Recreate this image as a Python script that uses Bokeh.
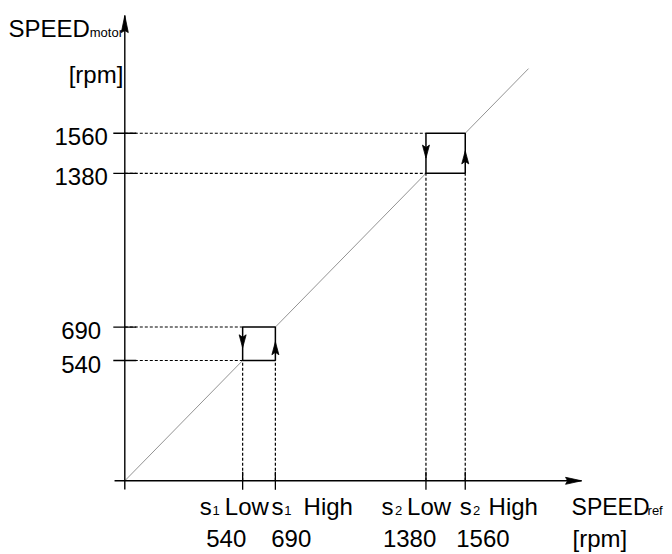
import math
from bokeh.plotting import figure
from bokeh.models import Range1d
from bokeh.core.properties import value
from bokeh.embed import file_html
from bokeh.resources import INLINE

# ---------------- data ----------------
THRESH_LOW = [540, 1380]          # s Low  (switch down)
THRESH_HIGH = [690, 1560]         # s High (switch up)
LINE_END = 1850                   # end of the reference diagonal
Y_TICKS = [540, 690, 1380, 1560]
Y_TICK_LABELS = ["540", "690", "1380", "1560"]
X_TICKS = [540, 690, 1380, 1560]
X_TICK_NUMBERS = ["540", "690", "1380", "1560"]
X_TICK_WORDS = ["Low", "High", "Low", "High"]
X_TICK_STAGE = ["1", "1", "2", "2"]

# ---------------- layout / style ----------------
W, H = 672, 554
KX, KY = 0.21823, 0.2228          # pixels per rpm
OX, OY = 124.3, 480.3             # origin position in pixels from the figure's top-left
X0, X1 = -OX / KX, (W - OX) / KX
Y0, Y1 = -(H - OY) / KY, OY / KY
X_AXIS_START, X_AXIS_END = -47, 2093
Y_AXIS_START, Y_AXIS_END = -39, 2088
FONT = value("Liberation Sans")
BIG_PX, MID_PX, SMALL_PX = 24, 23, 13
BIG, MID, SMALL = f"{BIG_PX}px", f"{MID_PX}px", f"{SMALL_PX}px"

def corr(px):                     # baseline correction for Bokeh's alphabetic text placement
    return -0.348 * px

FB, FM, FS = corr(BIG_PX), corr(MID_PX), corr(SMALL_PX)

dxp = (X1 - X0) / W   # data units per pixel
dyp = (Y1 - Y0) / H

p = figure(width=W, height=H, x_range=Range1d(X0, X1), y_range=Range1d(Y0, Y1),
           x_axis_type=None, y_axis_type=None, toolbar_location=None,
           output_backend="svg", min_border=0, outline_line_color=None)
p.title.visible = False
p.grid.visible = False
p.background_fill_color = "white"

# reference diagonal (motor speed = reference speed outside hysteresis)
starts = [0] + THRESH_HIGH
ends = THRESH_LOW + [LINE_END]
p.segment(x0=starts, y0=starts, x1=ends, y1=ends, line_color="#939393", line_width=1)

# dashed guide lines
hx0, hy0, hx1, hy1 = [], [], [], []
for lo, hi in zip(THRESH_LOW, THRESH_HIGH):
    for yy in (lo, hi):
        hx0.append(0); hy0.append(yy); hx1.append(lo); hy1.append(yy)
p.segment(x0=hx0, y0=hy0, x1=hx1, y1=hy1, line_color="black", line_width=1.1, line_dash="3 2")
vx0, vy0, vx1, vy1 = [], [], [], []
for lo, hi in zip(THRESH_LOW, THRESH_HIGH):
    for xx in (lo, hi):
        vx0.append(xx); vy0.append(0); vx1.append(xx); vy1.append(lo)
p.segment(x0=vx0, y0=vy0, x1=vx1, y1=vy1, line_color="black", line_width=1.2, line_dash="3 2")

# hysteresis boxes
p.quad(left=THRESH_LOW, right=THRESH_HIGH, bottom=THRESH_LOW, top=THRESH_HIGH,
       fill_color=None, line_color="black", line_width=1.5)

# axes
p.segment(x0=[X_AXIS_START, 0], y0=[0, Y_AXIS_START], x1=[X_AXIS_END, 0], y1=[0, Y_AXIS_END],
          line_color="black", line_width=1.4)

def head(tipx, tipy, direction, length_px, half_px, notch_px):
    if direction == "right":
        xs = [tipx, tipx - length_px * dxp, tipx - (length_px - notch_px) * dxp, tipx - length_px * dxp]
        ys = [tipy, tipy + half_px * dyp, tipy, tipy - half_px * dyp]
    else:
        s = 1 if direction == "up" else -1
        xs = [tipx, tipx + half_px * dxp, tipx, tipx - half_px * dxp]
        ys = [tipy, tipy - s * length_px * dyp, tipy - s * (length_px - notch_px) * dyp, tipy - s * length_px * dyp]
    return xs, ys

hxs, hys = [], []
for args in [(X_AXIS_END, 0, "right", 16, 3.5, 2), (0, Y_AXIS_END, "up", 17, 3.5, 2)]:
    a, b = head(*args); hxs.append(a); hys.append(b)
for lo, hi in zip(THRESH_LOW, THRESH_HIGH):
    a, b = head(lo, lo + 0.38 * (hi - lo), "down", 13, 3.5, 2.5); hxs.append(a); hys.append(b)
    a, b = head(hi, lo + 0.56 * (hi - lo), "up", 13, 3.5, 2.5); hxs.append(a); hys.append(b)
p.patches(xs=hxs, ys=hys, fill_color="black", line_color="black", line_width=0.8)

# tick marks
p.scatter(x=[0] * len(Y_TICKS), y=Y_TICKS, marker="dash", size=23, angle=0,
          line_color="black", line_width=1.3)
p.scatter(x=X_TICKS, y=[0] * len(X_TICKS), marker="dash", size=18, angle=math.pi / 2,
          line_color="black", line_width=1.3)

# y tick labels
p.text(x=[0] * len(Y_TICKS), y=Y_TICKS, text=Y_TICK_LABELS, x_offset=-43.6, y_offset=12 + FB,
       text_align="center", text_baseline="alphabetic", text_font=FONT, text_font_size=BIG,
       text_color="black")

# y axis title
p.text(x=[0], y=[Y_AXIS_END], text=["SPEED"], x_offset=-35, y_offset=21.7 + FB, text_align="right",
       text_baseline="alphabetic", text_font=FONT, text_font_size=BIG, text_color="black")
p.text(x=[0], y=[Y_AXIS_END], text=["motor"], x_offset=-1.8, y_offset=21.7 + FS, text_align="right",
       text_baseline="alphabetic", text_font=FONT, text_font_size=SMALL, text_color="black")
p.text(x=[0], y=[Y_AXIS_END], text=["[rpm]"], x_offset=-1.5, y_offset=67.5 + FB, text_align="right",
       text_baseline="alphabetic", text_font=FONT, text_font_size=BIG, text_color="black")

# x tick labels (s<sub>n</sub> Low/High, then value); label columns spread so they do not collide
ROW1, ROW2 = 34.2, 66.3
LABEL_COL_PX = [199.2, 270.9, 380.9, 459.2]     # where each "s" label column starts
NUM_COL_PX = [205.7, 270.7, 382.4, 455.7]       # where each number starts
SUB_OFF = [12.8, 12.8, 13.6, 13.2]
WORD_OFF = [25.1, 32.2, 25.7, 28.9]
for i, xv in enumerate(X_TICKS):
    tick_px = OX + xv * KX
    s_off = LABEL_COL_PX[i] - tick_px
    n_off = NUM_COL_PX[i] - tick_px
    common = dict(text_baseline="alphabetic", text_font=FONT, text_color="black", text_align="left")
    p.text(x=[xv], y=[0], text=["s"], x_offset=s_off, y_offset=ROW1 + FB, text_font_size=BIG, **common)
    p.text(x=[xv], y=[0], text=[X_TICK_STAGE[i]], x_offset=s_off + SUB_OFF[i], y_offset=ROW1 + FS,
           text_font_size=SMALL, **common)
    p.text(x=[xv], y=[0], text=[X_TICK_WORDS[i]], x_offset=s_off + WORD_OFF[i], y_offset=ROW1 + FB,
           text_font_size=BIG, **common)
    p.text(x=[xv], y=[0], text=[X_TICK_NUMBERS[i]], x_offset=n_off, y_offset=ROW2 + FB,
           text_font_size=BIG, **common)

# x axis title
p.text(x=[X_AXIS_END], y=[0], text=["SPEED"], x_offset=-10, y_offset=ROW1 + FM, text_align="left",
       text_baseline="alphabetic", text_font=FONT, text_font_size=MID, text_color="black")
p.text(x=[X_AXIS_END], y=[0], text=["ref"], x_offset=66, y_offset=ROW1 + FS, text_align="left",
       text_baseline="alphabetic", text_font=FONT, text_font_size=SMALL, text_color="black")
p.text(x=[X_AXIS_END], y=[0], text=["[rpm]"], x_offset=-9, y_offset=ROW2 + FB, text_align="left",
       text_baseline="alphabetic", text_font=FONT, text_font_size=BIG, text_color="black")

open("out.html", "w").write(file_html(p, INLINE))
